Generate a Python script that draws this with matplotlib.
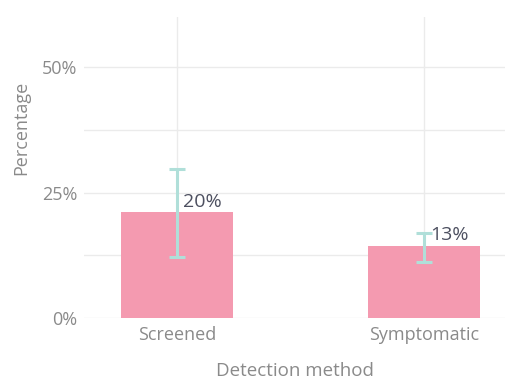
import numpy as np
import matplotlib
matplotlib.use('Agg')
import matplotlib.pyplot as plt
from matplotlib.ticker import FuncFormatter, MultipleLocator

plt.rcParams['font.family'] = ['Open Sans', 'DejaVu Sans']

# data
methods = ['Screened', 'Symptomatic']
pct = [21.1, 14.4]
labels = ['20%', '13%']
ci_low = [12.2, 11.1]
ci_high = [29.8, 16.9]

bar_col = '#f49ab0'
err_col = '#b0dfd9'
grid_col = '#ebebeb'
tick_col = '#8a8a8a'

fig = plt.figure(figsize=(5.06, 3.82), dpi=100)
ax = fig.add_axes([84/506, 1 - 318/382, 422/506, 301/382])

x = np.arange(len(methods))
ax.bar(x, pct, width=0.453, color=bar_col, zorder=2)
yerr = [np.array(pct) - np.array(ci_low), np.array(ci_high) - np.array(pct)]
ax.errorbar(x, pct, yerr=yerr, fmt='none', ecolor=err_col, elinewidth=2.2,
            capsize=6, capthick=2.2, zorder=3)

for xi, v, lab in zip(x, pct, labels):
    ax.annotate(lab, (xi, v), xytext=(4.5, 1), textcoords='offset points',
                ha='left', va='bottom', fontsize=14, color='#4d5060', zorder=4)

ax.set_xlim(-0.377, 1.332)
ax.set_ylim(0, 60)
ax.set_xticks(x)
ax.set_xticklabels(methods)
ax.yaxis.set_major_locator(MultipleLocator(25))
ax.yaxis.set_minor_locator(MultipleLocator(12.5))
ax.yaxis.set_major_formatter(FuncFormatter(lambda v, p: f'{v:.0f}%'))
ax.grid(True, which='both', axis='y', color=grid_col, lw=1, zorder=0)
ax.grid(True, which='major', axis='x', color=grid_col, lw=1, zorder=0)
for s in ax.spines.values():
    s.set_visible(False)
ax.tick_params(axis='both', which='both', length=0, labelsize=13, labelcolor=tick_col)
ax.tick_params(axis='y', pad=5)
ax.tick_params(axis='x', pad=6)

ax.set_xlabel('Detection method', fontsize=13.5, color=tick_col, labelpad=13)
ax.set_ylabel('Percentage', fontsize=13, color=tick_col)
ax.yaxis.set_label_coords(-0.128, 0.63)

fig.savefig('out.png', dpi=100)
